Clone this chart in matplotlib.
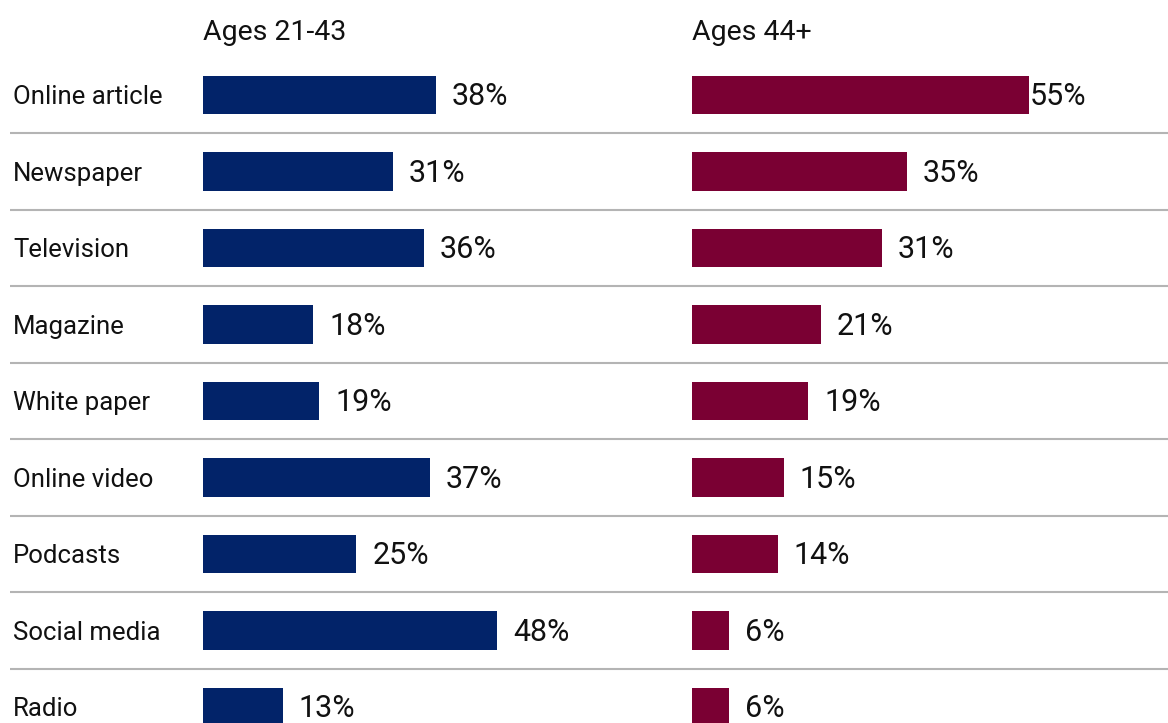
import matplotlib.pyplot as plt

# data
categories = ['Online article', 'Newspaper', 'Television', 'Magazine', 'White paper',
              'Online video', 'Podcasts', 'Social media', 'Radio']
young = [38, 31, 36, 18, 19, 37, 25, 48, 13]
older = [55, 35, 31, 21, 19, 15, 14, 6, 6]
titles = ['Ages 21-43', 'Ages 44+']

plt.rcParams['font.family'] = ['Roboto', 'DejaVu Sans']

W, H = 1168, 723
fig = plt.figure(figsize=(W / 100, H / 100), dpi=100)

# vertical layout: row centres at 95 px + 76.5 px per row
y_top = -95 / 76.5
y_bot = (H - 95) / 76.5
px_per_pct = 6.13

# background axes for the row separators
bg = fig.add_axes([10 / W, 0, 1 - 10 / W, 1])
bg.set_xlim(0, 1)
bg.set_ylim(y_bot, y_top)
bg.axis('off')
for i in range(len(categories) - 1):
    bg.axhline(i + 0.5, color='#b4b4b4', lw=1.5)

panels = [(203, 680, young, '#022369'), (692, 1168, older, '#7a0033')]
for k, (x0, x1, vals, col) in enumerate(panels):
    ax = fig.add_axes([x0 / W, 0, (x1 - x0) / W, 1])
    ax.set_xlim(0, (x1 - x0) / px_per_pct)
    ax.set_ylim(y_bot, y_top)
    ax.barh(range(len(categories)), vals, height=0.5, color=col)
    for i, v in enumerate(vals):
        pad = 0.15 if v == max(vals) and k == 1 else 2.6
        ax.text(v + pad, i + 0.025, f'{v}%', va='center', ha='left', fontsize=22,
                color='#111111')
    ax.text(0, -0.82, titles[k], va='center', ha='left', fontsize=20.5, color='#111111')
    ax.axis('off')

# category labels
for i, c in enumerate(categories):
    bg.text(3 / (W - 10), i + 0.03, c, va='center', ha='left', fontsize=18.5,
            color='#111111')

fig.savefig('out.png', dpi=100)
